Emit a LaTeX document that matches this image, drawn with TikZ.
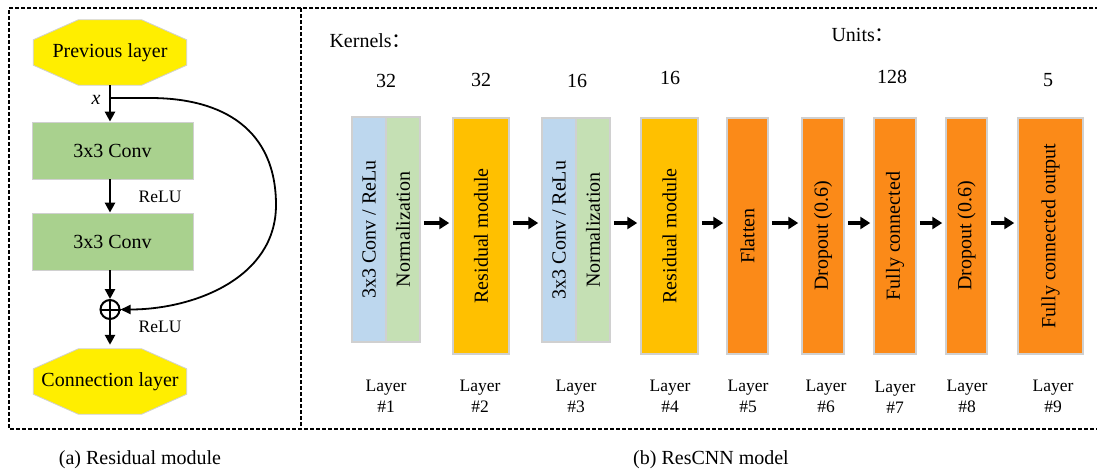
\documentclass[tikz,border=0pt]{standalone}
\usepackage{fontspec}
\setmainfont{Liberation Serif}
\newfontfamily\cjk{Noto Sans CJK SC}
\usetikzlibrary{arrows.meta,calc,backgrounds}
\definecolor{octyel}{HTML}{FFEE00}
\definecolor{convgreen}{HTML}{A9D18E}
\definecolor{lblue}{HTML}{BDD7EE}
\definecolor{lgreen}{HTML}{C5E0B4}
\definecolor{resyel}{HTML}{FFC000}
\definecolor{dorange}{HTML}{FB8A18}
\definecolor{bgray}{HTML}{D0D0D0}
\newcommand\drawoct[1]{%
  \begin{scope}[on background layer]
  \fill[octyel, draw=bgray, line width=0.8pt]
    ($(#1.north west)+(45,0)$) -- ($(#1.north east)+(-45,0)$) --
    ($(#1.north east)+(0,20)$) -- ($(#1.south east)+(0,-20)$) --
    ($(#1.south east)+(-45,0)$) -- ($(#1.south west)+(45,0)$) --
    ($(#1.south west)+(0,-20)$) -- ($(#1.north west)+(0,20)$) -- cycle;
  \end{scope}}
\begin{document}
\begin{tikzpicture}[x=1pt,y=-1pt,
  big/.style={font=\fontsize{20}{24}\selectfont},
  small/.style={font=\fontsize{17.5}{21}\selectfont},
  oct/.style={big, minimum width=153, minimum height=65, inner sep=0},
  conv/.style={big, fill=convgreen, draw=bgray, line width=0.8pt, minimum width=161, minimum height=57, inner sep=0},
  larr/.style={line width=2.6pt, -{Triangle[length=10pt,width=10pt]}},
  curvearr/.style={line width=1.8pt, -{Triangle[length=10pt,width=9pt]}},
  barr/.style={line width=3.6pt, -{Triangle[length=10pt,width=12pt]}, shorten <=3pt, shorten >=3pt},
  lay/.style={draw=bgray, line width=1.5pt, inner sep=0},
  rot/.style={big, rotate=90, inner sep=0},
  frame/.style={line width=1.3pt, dash pattern=on 4pt off 2pt},
  lbl/.style={small, align=center, inner sep=0}
]
\useasboundingbox (0,0) rectangle (1097,472);
% frame
\draw[frame] (1105,8) -- (9,8) -- (9,429) -- (1105,429);
\draw[frame] (301,8) -- (301,429);

% ----- left panel
\node[oct] (prev) at (110,52.5) {Previous layer};
\drawoct{prev}
\node[conv] (c1) at (112.5,150.5) {3x3 Conv};
\node[conv] (c2) at (112.5,241.5) {3x3 Conv};
\node[circle, draw, line width=2pt, minimum size=19, inner sep=0] (plus) at (110,309.5) {};
\draw[line width=2pt] (plus.north) -- (plus.south) (plus.west) -- (plus.east);
\node[oct] (conn) at (110,381.5) {Connection layer};
\drawoct{conn}
\coordinate (xs) at (110,98);
\draw[larr] (prev.south) -- (prev.south |- c1.north);
\draw[larr] (prev.south |- c1.south) -- (prev.south |- c2.north);
\draw[larr] (plus.north |- c2.south) -- (plus.north);
\draw[larr] (plus.south) -- ($(conn.north)+(0,-4)$);
\draw[curvearr] (xs) -- (150,98) to[out=0,in=90,looseness=1.15] (276,205) to[out=-90,in=0,looseness=1.0] (plus.east);
\node[big, font=\fontsize{20}{24}\selectfont\itshape] (xl) at (96,100) {x};
\node[small] (r1) at (160,197) {ReLU};
\node[small] (r2) at (160,327) {ReLU};
\node[big] (capa) at (140,460) {(a) Residual module};

% ----- right panel
\node[big, anchor=west] (kern) at (326,41) {Kernels{\cjk ：}};
\node[big, anchor=west] (units) at (828,35) {Units{\cjk ：}};
\node[big] (n1) at (386,81) {32};
\node[big] (n2) at (481,80) {32};
\node[big] (n3) at (577,81) {16};
\node[big] (n4) at (670,78) {16};
\node[big] (n7) at (892,77) {128};
\node[big] (n9) at (1048,80) {5};

\node[lay, fill=lblue, minimum width=34, minimum height=225] (L1b) at (369,229.5) {};
\node[lay, fill=lgreen, minimum width=34, minimum height=225] (L1g) at (403,229.5) {};
\node[lay, fill=resyel, minimum width=56, minimum height=236] (L2) at (481,236) {};
\node[lay, fill=lblue, minimum width=34, minimum height=224] (L3b) at (559,230) {};
\node[lay, fill=lgreen, minimum width=34, minimum height=224] (L3g) at (593,230) {};
\node[lay, fill=resyel, minimum width=57, minimum height=236] (L4) at (669.5,236) {};
\node[lay, fill=dorange, minimum width=41, minimum height=236] (L5) at (747.5,236) {};
\node[lay, fill=dorange, minimum width=42, minimum height=236] (L6) at (823,236) {};
\node[lay, fill=dorange, minimum width=42, minimum height=236] (L7) at (895,236) {};
\node[lay, fill=dorange, minimum width=41, minimum height=236] (L8) at (966.5,236) {};
\node[lay, fill=dorange, minimum width=65, minimum height=236] (L9) at (1050.5,236) {};

\node[rot] (t1b) at (L1b) {3x3 Conv / ReLu};
\node[rot] (t1g) at (L1g) {Normalization};
\node[rot] (t2) at (L2) {Residual module};
\node[rot] (t3b) at (L3b) {3x3 Conv / ReLu};
\node[rot] (t3g) at (L3g) {Normalization};
\node[rot] (t4) at (L4) {Residual module};
\node[rot] (t5) at (L5) {Flatten};
\node[rot] (t6) at (L6) {Dropout (0.6)};
\node[rot] (t7) at (L7) {Fully connected};
\node[rot] (t8) at (L8) {Dropout (0.6)};
\node[rot] (t9) at (L9) {Fully connected output};

\coordinate (ay) at (0,223);
\draw[barr] (L1g.east |- ay) -- (L2.west |- ay);
\draw[barr] (L2.east |- ay) -- (L3b.west |- ay);
\draw[barr] (L3g.east |- ay) -- (L4.west |- ay);
\draw[barr] (L4.east |- ay) -- (L5.west |- ay);
\draw[barr] (L5.east |- ay) -- (L6.west |- ay);
\draw[barr] (L6.east |- ay) -- (L7.west |- ay);
\draw[barr] (L7.east |- ay) -- (L8.west |- ay);
\draw[barr] (L8.east |- ay) -- (L9.west |- ay);

\node[lbl] (y1) at (386,396) {Layer\\\#1};
\node[lbl] (y2) at (480,396) {Layer\\\#2};
\node[lbl] (y3) at (576,396) {Layer\\\#3};
\node[lbl] (y4) at (670,396) {Layer\\\#4};
\node[lbl] (y5) at (748,396) {Layer\\\#5};
\node[lbl] (y6) at (826,396) {Layer\\\#6};
\node[lbl] (y7) at (895,397) {Layer\\\#7};
\node[lbl] (y8) at (967,396) {Layer\\\#8};
\node[lbl] (y9) at (1053,396) {Layer\\\#9};

\node[big] (capb) at (711,460) {(b) ResCNN model};
\end{tikzpicture}
\end{document}
